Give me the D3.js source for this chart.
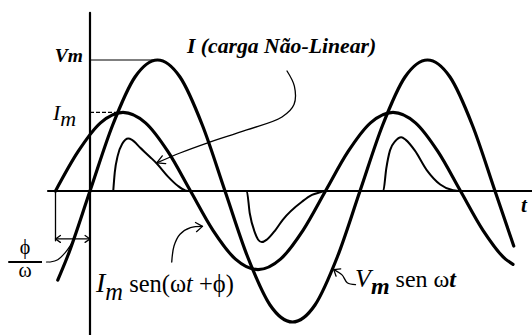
<!DOCTYPE html>
<html>
<head>
<meta charset="utf-8">
<script src="https://cdn.jsdelivr.net/npm/d3@7"></script>
<style>
  html, body { margin: 0; padding: 0; background: #fff; }
  svg { display: block; }
  text { font-family: "Liberation Serif", "Times New Roman", serif; fill: #000; }
</style>
</head>
<body>
<svg id="chart" width="532" height="335"></svg>
<script>
// Angle ωt in degrees, amplitudes normalised to Vm = 1
const Vm = 1;
const Im = 0.6;
const phiDeg = 46;

// v(t) = Vm sen ωt
const voltageDeg = [-43, -30, 0, 30, 60, 90, 120, 150, 180, 210, 240, 270, 300, 330, 360, 390, 420, 450, 480, 510, 540, 565];
const voltageVal = [-0.68, -0.5, 0, 0.5, 0.87, 1, 0.87, 0.5, 0, -0.5, -0.87, -1, -0.87, -0.5, 0, 0.5, 0.87, 1, 0.87, 0.5, 0, -0.42];

// i(t) = Im sen(ωt + ϕ)
const currentDeg = [-46, -16, 14, 44, 74, 104, 134, 164, 194, 224, 254, 284, 314, 344, 374, 404, 434, 464, 494, 524, 554, 564];
const currentVal = [0, 0.3, 0.52, 0.6, 0.52, 0.3, 0, -0.3, -0.52, -0.6, -0.52, -0.3, 0, 0.3, 0.52, 0.6, 0.52, 0.3, 0, -0.3, -0.52, -0.56];

// current drawn by the non-linear load (pulses)
const nonlinearDeg = [31, 33, 37, 43, 51, 56, 67, 80, 89, 104, 117, 127, 133,
                      209, 213, 220, 224, 229, 236, 247, 257, 283, 296, 307, 313,
                      391, 395, 400, 407, 415, 421, 433, 449, 467, 484, 491];
const nonlinearVal = [0, 0.14, 0.27, 0.36, 0.40, 0.39, 0.33, 0.26, 0.21, 0.11, 0.04, 0.005, 0,
                      0, -0.17, -0.32, -0.37, -0.39, -0.37, -0.30, -0.22, -0.08, -0.03, -0.01, 0,
                      0, 0.17, 0.31, 0.38, 0.41, 0.39, 0.31, 0.16, 0.05, 0.005, 0];

const zip = (a, b) => a.map((d, i) => [d, b[i]]);

const svg = d3.select("#chart");
const x = d3.scaleLinear().domain([0, 180]).range([90, 225]);
const y = d3.scaleLinear().domain([0, 1]).range([191, 60]);

const line = d3.line().x(d => x(d[0])).y(d => y(d[1])).curve(d3.curveMonotoneX);
const free = d3.line().x(d => x(d[0])).y(d => y(d[1])).curve(d3.curveCatmullRom.alpha(0.5));

function stroke(sel, w) {
  return sel.attr("fill", "none").attr("stroke", "#000").attr("stroke-width", w)
    .attr("stroke-linecap", "round").attr("stroke-linejoin", "round");
}

// open arrowhead at tip, pointing away from 'from'
function arrowHead(tip, from, len, spread) {
  const tx = x(tip[0]), ty = y(tip[1]);
  const ang = Math.atan2(ty - y(from[1]), tx - x(from[0]));
  const a = spread * Math.PI / 180;
  const p1 = [tx - len * Math.cos(ang - a), ty - len * Math.sin(ang - a)];
  const p2 = [tx - len * Math.cos(ang + a), ty - len * Math.sin(ang + a)];
  stroke(svg.append("path"), 1.3)
    .attr("d", `M${p1[0]},${p1[1]}L${tx},${ty}L${p2[0]},${p2[1]}`);
}

// axes
stroke(svg.append("line"), 2.2)
  .attr("x1", x(-56)).attr("x2", x(600)).attr("y1", y(0)).attr("y2", y(0));
stroke(svg.append("line"), 2.2)
  .attr("x1", x(0)).attr("x2", x(0)).attr("y1", y(1.36)).attr("y2", y(-1.2));

// amplitude guides
stroke(svg.append("line"), 1.2)
  .attr("x1", x(0)).attr("x2", x(90)).attr("y1", y(Vm)).attr("y2", y(Vm));
stroke(svg.append("line"), 1.2).attr("stroke-dasharray", "4 2").attr("stroke-linecap", "butt")
  .attr("x1", x(0)).attr("x2", x(90 - phiDeg)).attr("y1", y(Im)).attr("y2", y(Im));

// curves
stroke(svg.append("path").datum(zip(voltageDeg, voltageVal)), 3.2).attr("d", line);
stroke(svg.append("path").datum(zip(currentDeg, currentVal)), 3.2).attr("d", line);
stroke(svg.append("path").datum(zip(nonlinearDeg, nonlinearVal)), 2).attr("d", line);

// ϕ/ω dimension
stroke(svg.append("line"), 1.3)
  .attr("x1", x(-phiDeg)).attr("x2", x(-phiDeg)).attr("y1", y(0)).attr("y2", y(-0.38));
stroke(svg.append("line"), 1.3)
  .attr("x1", x(-phiDeg)).attr("x2", x(0)).attr("y1", y(-0.366)).attr("y2", y(-0.366));
arrowHead([-phiDeg, -0.366], [-20, -0.366], 6, 35);
arrowHead([0, -0.366], [-20, -0.366], 6, 35);

// ϕ/ω fraction bar and leader
stroke(svg.append("line"), 1.8).attr("stroke-linecap", "butt")
  .attr("x1", x(-109)).attr("x2", x(-64)).attr("y1", y(-0.542)).attr("y2", y(-0.542));
stroke(svg.append("line"), 1.2)
  .attr("x1", x(-58)).attr("x2", x(-54)).attr("y1", y(-0.542)).attr("y2", y(-0.542));
stroke(svg.append("path").datum([[-53, -0.542], [-43, -0.525], [-33, -0.47], [-26, -0.415], [-22, -0.375]]), 1.2)
  .attr("d", free);

// label leader for the non-linear current
const leaderNL = [[262.7, 0.916], [272.5, 0.8], [272, 0.66], [256, 0.565], [209, 0.466], [156, 0.366], [120, 0.29], [89, 0.214]];
stroke(svg.append("path").datum(leaderNL), 1.3).attr("d", free);
arrowHead([89, 0.214], [105, 0.255], 9, 28);

// leader for Im sen(ωt+ϕ)
const leaderI = [[109, -0.542], [112, -0.42], [120, -0.33], [134, -0.28], [150, -0.27]];
stroke(svg.append("path").datum(leaderI), 1.3).attr("d", free);
arrowHead([150, -0.27], [134, -0.28], 8, 35);

// leader for Vm sen ωt
const leaderV = [[354, -0.715], [343, -0.70], [336, -0.64], [325, -0.60]];
stroke(svg.append("path").datum(leaderV), 1.3).attr("d", free);
arrowHead([325, -0.60], [336, -0.64], 7, 38);

// labels
svg.append("text").attr("x", 83).attr("y", 62).attr("text-anchor", "end")
  .style("font-size", "19.5px").style("font-weight", "bold").style("font-style", "italic").text("Vm");

const tIm = svg.append("text").attr("x", 53).attr("y", 120).style("font-size", "22px").style("font-style", "italic");
tIm.append("tspan").text("I");
tIm.append("tspan").attr("dy", 6).style("font-size", "22px").text("m");

svg.append("text").attr("x", 187).attr("y", 53)
  .style("font-size", "21.7px").style("font-weight", "bold").style("font-style", "italic")
  .text("I (carga Não-Linear)");

const tI = svg.append("text").attr("x", 96).attr("y", 292).style("font-size", "24.5px");
tI.append("tspan").style("font-style", "italic").style("font-size", "28px").text("I");
tI.append("tspan").attr("dy", 8).style("font-style", "italic").text("m");
tI.append("tspan").attr("dy", -8).text(" sen(ω");
tI.append("tspan").style("font-style", "italic").text("t");
tI.append("tspan").text(" +ϕ)");

const tV = svg.append("text").attr("x", 355).attr("y", 287).style("font-size", "24px");
tV.append("tspan").style("font-style", "italic").style("font-size", "26px").text("V");
tV.append("tspan").attr("dy", 7).style("font-style", "italic").style("font-weight", "bold").text("m");
tV.append("tspan").attr("dy", -7).text(" sen ω");
tV.append("tspan").style("font-style", "italic").style("font-weight", "bold").text("t");

svg.append("text").attr("x", 25).attr("y", 254).attr("text-anchor", "middle").style("font-size", "20px").text("ϕ");
svg.append("text").attr("x", 25).attr("y", 277).attr("text-anchor", "middle").style("font-size", "20px").text("ω");

svg.append("text").attr("x", 521).attr("y", 212)
  .style("font-size", "21px").style("font-weight", "bold").style("font-style", "italic").text("t");
</script>
</body>
</html>
